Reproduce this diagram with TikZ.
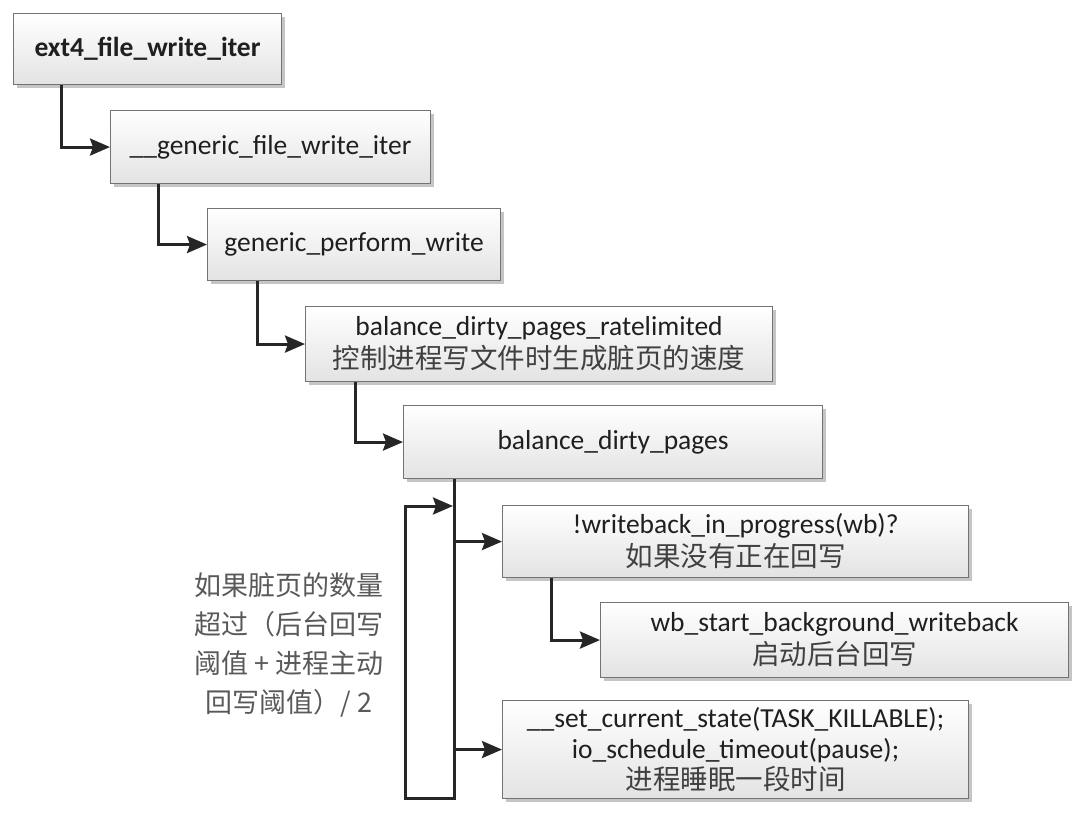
\documentclass[tikz,border=0pt]{standalone}
\usepackage{fontspec}
\setmainfont{Carlito}
\newfontfamily\cjk{Noto Sans CJK SC}
\usetikzlibrary{arrows.meta,shadows,calc}
\begin{document}
\begin{tikzpicture}[x=1pt,y=-1pt,
  box/.style={draw=black!55, line width=1.1pt, top color=white, bottom color=black!11,
    drop shadow={shadow xshift=3pt, shadow yshift=-3pt, fill=black!45, opacity=0.5},
    anchor=north west, align=center, inner sep=0pt, text=black!88,
    font=\fontsize{27.5}{33}\selectfont},
  arr/.style={line width=3pt, draw=black!85, -{Stealth[length=20pt,width=17pt,inset=3pt]}},
  cn/.style={text=black!75},
  lbl/.style={align=center, text=black!65, font=\fontsize{27}{39}\selectfont\cjk}
]
\useasboundingbox (0,0) rectangle (1076,813);

\node[box, minimum width=268pt, minimum height=71pt] (b1) at (13,13) {\textbf{ext4\_file\_write\_iter}};
\node[box, minimum width=320pt, minimum height=73pt] (b2) at (110,110) {\_\_generic\_file\_write\_iter};
\node[box, minimum width=293pt, minimum height=72pt] (b3) at (207,208) {generic\_perform\_write};
\node[box, minimum width=467pt, minimum height=75pt] (b4) at (305,306) {balance\_dirty\_pages\_ratelimited\\{\cjk\color{black!75}控制进程写文件时生成脏页的速度}};
\node[box, minimum width=419pt, minimum height=73pt] (b5) at (403,405) {balance\_dirty\_pages};
\node[box, minimum width=466pt, minimum height=72pt] (b6) at (502,505) {!writeback\_in\_progress(wb)?\\{\cjk\color{black!75}如果没有正在回写}};
\node[box, minimum width=468pt, minimum height=75pt] (b7) at (600,602) {wb\_start\_background\_writeback\\{\cjk\color{black!75}启动后台回写}};
\node[box, minimum width=466pt, minimum height=98pt, font=\fontsize{27.5}{31}\selectfont] (b8) at (502,700) {\_\_set\_current\_state(TASK\_KILLABLE);\\io\_schedule\_timeout(pause);\\{\cjk\color{black!75}进程睡眠一段时间}};

\node[lbl] (note) at (289,645) {如果脏页的数量\\超过（后台回写\\阈值 + 进程主动\\回写阈值）/ 2};

\draw[arr] ([xshift=48pt]b1.south west) |- (b2.west);
\draw[arr] ([xshift=48pt]b2.south west) |- (b3.west);
\draw[arr] ([xshift=50pt]b3.south west) |- (b4.west);
\draw[arr] ([xshift=50pt]b4.south west) |- (b5.west);
\draw[arr] ([xshift=49pt]b6.south west) |- (b7.west);

\coordinate (trunk) at ([xshift=51pt]b5.south west);
\coordinate (bot) at (454,798);
\coordinate (botl) at (405,798);
\coordinate (topl) at (405,506);
\coordinate (loopin) at (453,506);
\draw[arr] (trunk) -- (bot) -- (botl) -- (topl) -- (loopin);
\draw[arr] (trunk |- b6.west) -- (b6.west);
\draw[arr] (trunk |- b8.west) -- (b8.west);
\end{tikzpicture}
\end{document}
